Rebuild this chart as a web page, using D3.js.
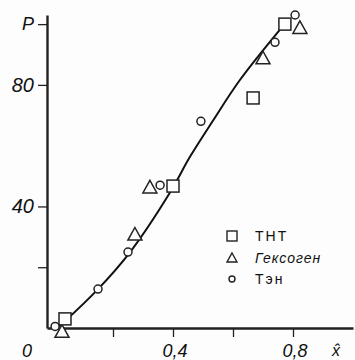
<!DOCTYPE html>
<html lang="ru">
<head>
<meta charset="UTF-8">
<script src="https://cdn.jsdelivr.net/npm/d3@7"></script>
<style>
    body { margin: 0; background: #fdfdfd; }
    svg { display: block; }
    .lab { font-family: 'Liberation Sans', 'DejaVu Sans', sans-serif; fill: #111; }
    .axis path, .axis line { stroke: #222; }
</style>
</head>
<body>
<div id="chart"></div>
<script>
    // data: x̂ and P
    const tnt = [[0.04, 3], [0.40, 46.7], [0.667, 75.7], [0.773, 100]];
    const hexogen = [[0.03, -1], [0.273, 31], [0.323, 46.5], [0.70, 89], [0.823, 99]];
    const ten = [[0.007, 0.5], [0.15, 12.8], [0.25, 25], [0.357, 47], [0.493, 68], [0.74, 94], [0.807, 103]];
    // smooth fitted curve
    const curvePts = [[0.02, 0.6], [0.04, 2.3], [0.15, 12.8], [0.257, 25], [0.39, 44.6],
        [0.457, 56.4], [0.533, 68.2], [0.623, 81.6], [0.76, 98.6]];
    const yTicks = [20, 40, 80, 100];
    const yLabels = {40: "40", 80: "80", 100: "P"};
    const xTicks = [0.2, 0.4, 0.6, 0.8];
    const xLabels = {0.4: "0,4", 0.8: "0,8"};
    const legendItems = [
        {name: "ТНТ", shape: "square", italic: false},
        {name: "Гексоген", shape: "triangle", italic: true},
        {name: "Тэн", shape: "circle", italic: false}
    ];

    const width = 355, height = 360;
    const svg = d3.select("#chart").append("svg")
        .attr("width", width)
        .attr("height", height);

    const x = d3.scaleLinear().domain([-0.02, 1.0]).range([47, 353]);
    const y = d3.scaleLinear().domain([0, 103]).range([328, 15]);

    // axes
    const xAxis = svg.append("g").attr("class", "axis")
        .attr("transform", `translate(0,${y(0)})`)
        .call(d3.axisBottom(x).tickValues(xTicks).tickSize(9).tickSizeOuter(0).tickFormat(""));
    const yAxis = svg.append("g").attr("class", "axis")
        .attr("transform", `translate(${x(-0.02)},0)`)
        .call(d3.axisLeft(y).tickValues(yTicks).tickSize(9).tickSizeOuter(0).tickFormat(""));
    xAxis.select(".domain").attr("stroke-width", 2.4);
    yAxis.select(".domain").attr("stroke-width", 2.4);
    xAxis.selectAll(".tick line").attr("stroke-width", 1.3);
    yAxis.selectAll(".tick line").attr("stroke-width", 1.3);

    // tick labels
    svg.selectAll(".ylab")
        .data(yTicks.filter(d => yLabels[d]))
        .enter().append("text")
        .attr("class", "lab")
        .attr("x", 34)
        .attr("y", d => y(d) + (d === 100 ? 6 : 7))
        .attr("text-anchor", "end")
        .attr("font-style", "italic")
        .attr("font-size", d => d === 100 ? 18 : 20)
        .text(d => yLabels[d]);

    svg.selectAll(".xlab")
        .data(xTicks.filter(d => xLabels[d]))
        .enter().append("text")
        .attr("class", "lab")
        .attr("x", d => x(d) + 2)
        .attr("y", 357)
        .attr("text-anchor", "middle")
        .attr("font-style", "italic")
        .attr("font-size", 18)
        .text(d => xLabels[d]);

    svg.append("text").attr("class", "lab")
        .attr("x", 27).attr("y", 357)
        .attr("text-anchor", "middle")
        .attr("font-style", "italic").attr("font-size", 18)
        .text("0");
    svg.append("text").attr("class", "lab")
        .attr("x", 336).attr("y", 356)
        .attr("text-anchor", "middle")
        .attr("font-style", "italic").attr("font-size", 16)
        .text("x̂");

    // curve
    svg.append("path")
        .datum(curvePts)
        .attr("fill", "none")
        .attr("stroke", "#111")
        .attr("stroke-width", 2)
        .attr("d", d3.line().x(d => x(d[0])).y(d => y(d[1])).curve(d3.curveCatmullRom));

    // markers
    function drawShape(g, shape, cx, cy, s) {
        if (shape === "square") {
            g.append("rect").attr("x", cx - s / 2).attr("y", cy - s / 2)
                .attr("width", s).attr("height", s);
        } else if (shape === "triangle") {
            const h = s * 0.9;
            g.append("path").attr("d",
                `M${cx},${cy - h / 2}L${cx + s / 2},${cy + h / 2}L${cx - s / 2},${cy + h / 2}Z`);
        } else {
            g.append("circle").attr("cx", cx).attr("cy", cy).attr("r", s / 2);
        }
    }

    const marks = svg.append("g")
        .attr("fill", "#fdfdfd").attr("stroke", "#222").attr("stroke-width", 1.5);
    ten.forEach(d => drawShape(marks, "circle", x(d[0]), y(d[1]), 8));
    hexogen.forEach(d => drawShape(marks, "triangle", x(d[0]), y(d[1]), 14));
    tnt.forEach(d => drawShape(marks, "square", x(d[0]), y(d[1]), 12));

    // legend
    const legend = svg.append("g");
    legendItems.forEach((d, i) => {
        const ly = 236 + i * 21.5;
        const g = legend.append("g")
            .attr("fill", "none").attr("stroke", "#222").attr("stroke-width", 1.4);
        drawShape(g, d.shape, 232, ly, d.shape === "square" ? 10 : d.shape === "triangle" ? 10 : 6);
        legend.append("text").attr("class", "lab")
            .attr("x", 255).attr("y", ly + 5)
            .attr("font-size", 14)
            .attr("font-style", d.italic ? "italic" : "normal")
            .attr("letter-spacing", d.italic ? 1 : 2)
            .text(d.name);
    });
</script>
</body>
</html>
